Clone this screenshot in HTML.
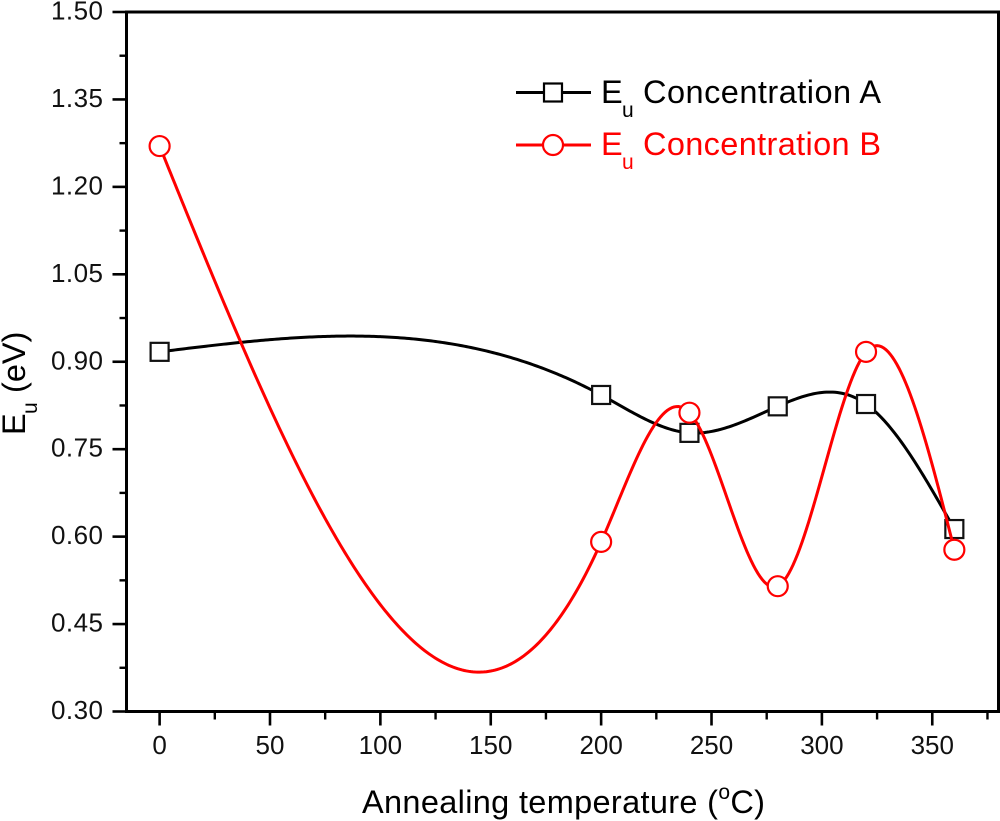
<!DOCTYPE html>
<html lang="en">
<head>
<meta charset="utf-8">
<title>Eu vs annealing temperature</title>
<style>
html,body{margin:0;padding:0;background:#fff;width:1000px;height:821px;overflow:hidden}
svg{display:block}
text{font-family:"Liberation Sans",Arial,sans-serif;fill:#000}
.tick{font-size:26px;fill:#111}
.ttl{font-size:32.5px}
.sub{font-size:21px}
</style>
</head>
<body>
<svg id="chart" width="1000" height="821" viewBox="0 0 1000 821" xmlns="http://www.w3.org/2000/svg">
  <g id="marks"></g>
  <g id="axes"></g>
  <text class="ttl" x="362" y="813" textLength="403" lengthAdjust="spacing">Annealing temperature (<tspan dy="-14" font-size="21">o</tspan><tspan dy="14">C)</tspan></text>
  <g transform="translate(25,435) rotate(-90)">
    <text class="ttl" x="0" y="0">E</text>
    <text class="sub" x="21" y="12">u</text>
    <text class="ttl" x="42" y="0">(eV)</text>
  </g>
  <g>
    <g>
      <line x1="516" y1="92.5" x2="591" y2="92.5" stroke="#000" stroke-width="3"/>
      <rect x="544" y="83.5" width="18" height="18" fill="#fff" stroke="#000" stroke-width="2.2"/>
      <text class="ttl" x="601" y="103">E</text>
      <text class="sub" x="622" y="117">u</text>
      <text class="ttl" x="643" y="103" textLength="238" lengthAdjust="spacing">Concentration A</text>
    </g>
    <g>
      <line x1="516" y1="145" x2="591" y2="145" stroke="#f00" stroke-width="3"/>
      <circle cx="553" cy="145" r="10" fill="#fff" stroke="#f00" stroke-width="2.2"/>
      <text class="ttl" x="601" y="155" style="fill:#f00">E</text>
      <text class="sub" x="622" y="169" style="fill:#f00">u</text>
      <text class="ttl" x="643" y="155" textLength="238" lengthAdjust="spacing" style="fill:#f00">Concentration B</text>
    </g>
  </g>
</svg>
<script>
const temperatures = [0, 200, 240, 280, 320, 360];
const concentrationA = [0.917, 0.843, 0.778, 0.8235, 0.8275, 0.613];
const concentrationB = [1.270, 0.591, 0.8126, 0.515, 0.917, 0.5775];
const xMajorTicks = [0, 50, 100, 150, 200, 250, 300, 350];
const xMinorTicks = [25, 75, 125, 175, 225, 275, 325, 375];
const yMajorTicks = ['0.30', '0.45', '0.60', '0.75', '0.90', '1.05', '1.20', '1.35', '1.50'];
const yMinorTicks = [0.375, 0.525, 0.675, 0.825, 0.975, 1.125, 1.275, 1.425];

const NS = 'http://www.w3.org/2000/svg';
const left = 126.5, right = 998.5, top_ = 12, bottom = 711.5;
const xMin = -15, xMax = 380, yMin = 0.3, yMax = 1.5;
function sx(v) { return left + (v - xMin) / (xMax - xMin) * (right - left); }
function sy(v) { return bottom - (v - yMin) / (yMax - yMin) * (bottom - top_); }

function make(tag, parent, attrs) {
  const el = document.createElementNS(NS, tag);
  for (const k in attrs) el.setAttribute(k, attrs[k]);
  parent.appendChild(el);
  return el;
}

// natural cubic spline, as the plotting package's smooth connector
function splineFn(xs, ys) {
  const n = xs.length, m = new Array(n).fill(0), c = new Array(n).fill(0), d = new Array(n).fill(0);
  for (let i = 1; i < n - 1; i++) {
    const h0 = xs[i] - xs[i - 1], h1 = xs[i + 1] - xs[i];
    const r = 6 * ((ys[i + 1] - ys[i]) / h1 - (ys[i] - ys[i - 1]) / h0);
    const b = 2 * (h0 + h1) - h0 * c[i - 1];
    c[i] = h1 / b;
    d[i] = (r - h0 * d[i - 1]) / b;
  }
  for (let i = n - 2; i > 0; i--) m[i] = d[i] - c[i] * m[i + 1];
  return function (x) {
    let i = 0;
    while (i < n - 2 && x > xs[i + 1]) i++;
    const h = xs[i + 1] - xs[i], a = (xs[i + 1] - x) / h, b = (x - xs[i]) / h;
    return a * ys[i] + b * ys[i + 1] + ((a * a * a - a) * m[i] + (b * b * b - b) * m[i + 1]) * h * h / 6;
  };
}

function curvePath(xs, ys) {
  const f = splineFn(xs, ys), first = xs[0], last = xs[xs.length - 1];
  let p = '';
  for (let x = first; x <= last; x += 1) {
    p += (p ? 'L' : 'M') + sx(x).toFixed(2) + ' ' + sy(f(x)).toFixed(2);
  }
  return p;
}

const axes = document.getElementById('axes');
const marks = document.getElementById('marks');

// series A
const lineA = make('path', marks, { d: curvePath(temperatures, concentrationA), fill: 'none', stroke: '#000', 'stroke-width': 3 });


temperatures.forEach(function (t, i) {
  const sq = make('rect', marks, { x: sx(t) - 9, y: sy(concentrationA[i]) - 9, width: 18, height: 18, fill: '#fff', stroke: '#111', 'stroke-width': 2.2 });
  
  
});

// series B
const lineB = make('path', marks, { d: curvePath(temperatures, concentrationB), fill: 'none', stroke: '#f00', 'stroke-width': 3 });


temperatures.forEach(function (t, i) {
  const ci = make('circle', marks, { cx: sx(t), cy: sy(concentrationB[i]), r: 10, fill: '#fff', stroke: '#f00', 'stroke-width': 2.2 });
  
  
});

// frame
const frame = make('path', axes, { d: 'M' + left + ' ' + top_ + 'H' + right + 'V' + bottom + 'H' + left, fill: 'none', stroke: '#000', 'stroke-width': 3 });


const yAxisLine = make('line', axes, { x1: left, y1: top_ - 1.5, x2: left, y2: bottom + 1.5, stroke: '#000', 'stroke-width': 3 });



// x ticks
xMajorTicks.forEach(function (v) {
  const t = make('line', axes, { x1: sx(v), y1: bottom, x2: sx(v), y2: bottom + 14, stroke: '#000', 'stroke-width': 2.6 });
  
  
  const l = make('text', axes, { x: sx(v), y: 754, 'text-anchor': 'middle', class: 'tick' });
  
  
  l.textContent = String(v);
});
xMinorTicks.forEach(function (v) {
  const t = make('line', axes, { x1: sx(v), y1: bottom, x2: sx(v), y2: bottom + 8, stroke: '#000', 'stroke-width': 2.4 });
  
  
});

// y ticks
yMajorTicks.forEach(function (s) {
  const v = parseFloat(s);
  const t = make('line', axes, { x1: left - 14, y1: sy(v), x2: left, y2: sy(v), stroke: '#000', 'stroke-width': 2.6 });
  
  
  const l = make('text', axes, { x: 103, y: sy(v) + 7.5, 'text-anchor': 'end', class: 'tick', textLength: 52, lengthAdjust: 'spacing' });
  
  
  l.textContent = s;
});
yMinorTicks.forEach(function (v) {
  const t = make('line', axes, { x1: left - 7, y1: sy(v), x2: left, y2: sy(v), stroke: '#000', 'stroke-width': 2.4 });
  
  
});
</script>
</body>
</html>
